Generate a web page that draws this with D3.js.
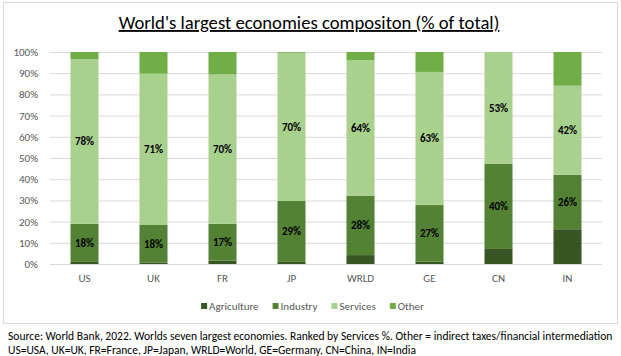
<!DOCTYPE html>
<html>
<head>
<meta charset="utf-8">
<script src="https://cdn.jsdelivr.net/npm/d3@7"></script>
<style>
  html, body { margin: 0; padding: 0; background: #ffffff; }
  svg { display: block; }
  text { font-family: Carlito, Calibri, "Liberation Sans Narrow", "Open Sans", "Liberation Sans", sans-serif; }
</style>
</head>
<body>
<svg id="chart" width="621" height="356"></svg>
<script>
const categories = ["US", "UK", "FR", "JP", "WRLD", "GE", "CN", "IN"];
const seriesNames = ["Agriculture", "Industry", "Services", "Other"];
const agriculture = [1.0, 0.6, 1.6, 1.0, 4.2, 1.1, 7.1, 16.4];
const industry    = [18.0, 17.8, 17.4, 28.7, 27.9, 26.7, 40.1, 25.7];
const services    = [77.7, 71.4, 70.4, 70.0, 64.1, 62.8, 52.8, 42.0];
const other       = [3.3, 10.2, 10.6, 0.3, 3.8, 9.4, 0.0, 15.9];
const labelledSeries = ["Industry", "Services"];
const yTicks = [0, 10, 20, 30, 40, 50, 60, 70, 80, 90, 100];
const titleText = "World's largest economies compositon (% of total)";
const sourceLines = [
  "Source: World Bank, 2022. Worlds seven largest economies. Ranked by Services %. Other = indirect taxes/financial intermediation",
  "US=USA, UK=UK, FR=France, JP=Japan, WRLD=World, GE=Germany, CN=China, IN=India"
];
const colors = {Agriculture: "#375623", Industry: "#548235", Services: "#A9D18E", Other: "#70AD47"};

const svg = d3.select("#chart");

// chart border
svg.append("rect").attr("x", 3.5).attr("y", 2.5).attr("width", 614).attr("height", 321)
  .attr("fill", "#fff").attr("stroke", "#d9d9d9").attr("stroke-width", 1);

const rows = categories.map((c, i) => ({
  cat: c, Agriculture: agriculture[i], Industry: industry[i], Services: services[i], Other: other[i]
}));

const x = d3.scaleBand().domain(categories).range([50, 602]).paddingInner(0.594).paddingOuter(0.297);
const y = d3.scaleLinear().domain([0, 100]).range([264, 52]);

// gridlines + y labels
const yAxis = d3.axisLeft(y).tickValues(yTicks).tickSize(-(602 - 50)).tickPadding(12)
  .tickFormat(d => d + "%");
const gy = svg.append("g").attr("transform", "translate(50,0)").call(yAxis);
gy.select(".domain").remove();
gy.selectAll(".tick line").attr("stroke", "#d9d9d9").attr("stroke-width", 1);
gy.selectAll(".tick text").attr("fill", "#595959").attr("font-size", "11px").attr("x", -12);

// stacked bars
const stack = d3.stack().keys(seriesNames);
const stacked = stack(rows);
const layers = svg.append("g").selectAll("g").data(stacked).join("g")
  .attr("fill", d => colors[d.key]);
layers.selectAll("rect").data(d => d.map(v => ({v, key: d.key}))).join("rect")
  .attr("x", d => x(d.v.data.cat))
  .attr("width", x.bandwidth())
  .attr("y", d => y(d.v[1]))
  .attr("height", d => y(d.v[0]) - y(d.v[1]));

// data labels
const lab = svg.append("g");
stacked.filter(s => labelledSeries.includes(s.key)).forEach(s => {
  lab.selectAll(null).data(s).join("text")
    .attr("x", d => x(d.data.cat) + x.bandwidth() / 2)
    .attr("y", d => (y(d[0]) + y(d[1])) / 2)
    .attr("dy", "0.35em")
    .attr("text-anchor", "middle")
    .attr("font-size", "11px")
    .attr("font-weight", "bold")
    .attr("fill", "#000")
    .text(d => Math.round(d[1] - d[0]) + "%");
});

// x axis labels
const xAxis = d3.axisBottom(x).tickSize(0).tickPadding(10);
const gx = svg.append("g").attr("transform", "translate(0,264)").call(xAxis);
gx.select(".domain").remove();
gx.selectAll(".tick text").attr("fill", "#595959").attr("font-size", "11px");

// title
const title = svg.append("text").attr("x", 309).attr("y", 29).attr("text-anchor", "middle")
  .attr("font-size", "18px").attr("fill", "#000").attr("text-decoration", "underline")
  .text(titleText);
{
  const w = title.node().getComputedTextLength();
  title.attr("font-size", (18 * 381 / w).toFixed(2) + "px");
}

// legend
const leg = svg.append("g");
const legItems = seriesNames.map(n => {
  const g = leg.append("g");
  g.append("rect").attr("width", 6).attr("height", 6).attr("y", -3).attr("fill", colors[n]);
  const t = g.append("text").attr("x", 8).attr("dy", "0.35em").attr("font-size", "11px")
    .attr("fill", "#595959").text(n);
  return {g, w: 8 + t.node().getComputedTextLength()};
});
const gap = 14;
const total = d3.sum(legItems, d => d.w) + gap * (legItems.length - 1);
let lx = 312.5 - total / 2;
legItems.forEach(it => { it.g.attr("transform", `translate(${lx},306)`); lx += it.w + gap; });

// source lines
const src = svg.append("g");
const s1 = src.append("text").attr("x", 8).attr("y", 336).attr("dy", "0.35em").attr("font-size", "11px")
  .attr("fill", "#000").text(sourceLines[0]);
const s2 = src.append("text").attr("x", 8).attr("y", 350).attr("dy", "0.35em").attr("font-size", "11px")
  .attr("fill", "#000").text(sourceLines[1]);
{
  const w = s1.node().getComputedTextLength();
  const fs = (11 * 605 / w).toFixed(2) + "px";
  s1.attr("font-size", fs); s2.attr("font-size", fs);
}
</script>
</body>
</html>
